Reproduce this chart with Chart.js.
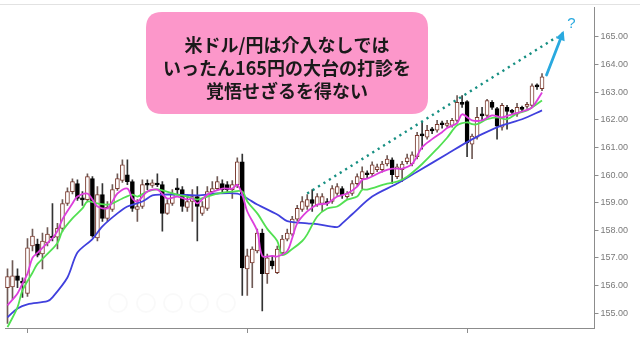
<!DOCTYPE html>
<html><head><meta charset="utf-8">
<script src="https://cdn.jsdelivr.net/npm/chart.js@4/dist/chart.umd.min.js"></script>
<style>html,body{margin:0;padding:0;background:#fff;}#wrap{width:640px;height:340px;position:relative;}</style>
</head><body><div id="wrap"><canvas id="c" width="640" height="340"></canvas></div>
<script>
const opens = [155.92,155.95,156.35,156.12,155.71,157.43,157.5,157.14,157.54,157.79,
157.75,158.07,158.97,159.4,159.69,159.13,159.11,159.87,157.72,159.29,
158.43,158.75,159.51,159.8,160.01,159.76,158.75,158.86,159.66,159.62,
159.67,159.65,158.61,158.97,159.49,159.47,158.83,159.04,159.22,158.61,
158.79,159.4,159.51,159.69,159.65,159.47,159.65,160.48,156.6,156.82,
157.25,157.9,156.43,156.89,156.46,157.18,157.68,157.86,158.4,158.75,
158.86,159.11,158.93,158.97,159.04,159.04,159.33,159.51,159.22,159.33,
159.69,159.87,160.05,160.05,160.19,160.19,160.4,160.55,159.94,160.19,
160.48,160.4,160.66,161.46,161.37,161.64,161.62,161.85,161.8,161.8,
161.98,162.6,162.66,161.12,161.37,162.18,162.16,162.63,162.41,161.73,
162.45,162.3,162.2,162.41,162.48,162.52,163.21,163.13];
const closes = [156.32,156.35,156.18,156.08,157.36,157.79,157.1,157.61,157.86,157.72,
158.07,158.97,159.4,159.76,159.15,159.1,159.94,157.79,159.29,158.43,
158.83,159.47,159.87,160.37,159.76,158.79,158.86,159.65,159.63,159.72,
159.64,158.61,158.97,159.33,159.46,158.86,159.04,159.22,158.86,158.86,
159.4,159.51,159.76,159.47,159.47,159.65,160.48,156.64,157.07,157.32,
157.9,156.43,157.0,156.71,157.32,157.68,157.9,158.4,158.79,159.04,
159.11,158.97,159.22,159.22,158.97,159.51,159.58,159.29,159.33,159.69,
159.94,160.12,160.01,160.37,160.3,160.4,160.58,160.01,160.3,160.4,
160.62,160.73,161.44,161.42,161.62,161.6,161.84,161.82,161.88,161.98,
162.63,162.56,161.16,161.41,162.09,162.14,162.7,162.45,161.77,162.52,
162.3,162.27,162.45,162.38,162.56,163.23,163.19,163.56];
const highs = [156.6,156.9,156.6,156.28,157.7,158.04,157.68,157.9,158.1,158.97,
158.25,159.11,159.54,159.86,159.83,159.4,160.04,159.94,159.58,159.69,
159.04,159.65,160.04,160.55,160.55,159.83,159.11,159.83,159.83,159.83,
160.04,159.76,159.11,159.47,159.87,159.58,159.29,159.47,159.58,159.04,
159.58,159.76,159.94,159.83,159.76,159.8,160.62,160.76,157.32,157.4,
158.04,158.04,157.14,157.07,157.43,157.82,158.04,158.5,158.9,159.22,
159.29,159.47,159.33,159.33,159.15,159.62,159.69,159.58,159.4,159.8,
160.04,160.3,160.15,160.48,160.4,160.5,160.7,160.62,160.4,160.5,
160.76,160.84,161.55,161.91,161.8,161.73,161.98,161.95,161.98,162.05,
162.88,162.88,162.7,161.48,162.45,162.45,162.74,162.7,162.45,162.6,
162.52,162.38,162.6,162.5,162.63,163.3,163.3,163.67];
const lows = [154.63,155.5,155.92,155.57,155.6,157.25,157.03,156.6,157.43,157.61,
157.32,157.96,158.9,159.32,159.08,158.9,159.04,157.75,157.61,158.32,
158.32,158.68,159.44,159.73,159.65,158.68,158.32,158.79,159.47,159.55,
159.58,157.97,158.57,158.9,159.29,158.68,158.68,158.32,157.61,158.54,
158.72,159.33,159.44,159.4,159.4,159.15,159.54,155.64,155.64,155.92,
157.18,155.08,156.07,156.6,156.43,157.1,157.61,157.79,158.33,158.68,
158.75,158.68,158.86,158.68,158.9,158.97,159.26,159.15,159.15,159.26,
159.62,159.51,159.9,159.98,160.12,160.1,160.33,159.69,159.87,159.76,
160.4,160.33,160.58,160.94,161.3,161.5,161.55,161.7,161.73,161.73,
161.91,162.45,160.66,160.59,161.3,161.98,162.09,162.38,161.3,161.62,
161.66,162.2,162.12,162.3,162.41,162.45,163.1,163.05];

// moving averages: [candle index, value]
const maShortPts = [[0,155.28],[2,155.71],[3,156.07],[4,156.43],[5,157.0],[6,157.18],[8,157.54],[9,157.72],[10,157.97],[11,158.4],[13,158.97],[14,159.22],[16,159.33],[17,159.11],[18,158.86],[20,158.79],[21,159.04],[22,159.33],[24,159.51],[25,159.15],[26,159.04],[28,159.4],[30,159.47],[32,159.15],[34,159.22],[36,159.11],[37,159.15],[38,158.97],[40,159.29],[43,159.51],[45,159.51],[46,159.65],[47,159.29],[48,158.68],[50,157.97],[51,157.07],[53,157.07],[54,157.05],[56,157.25],[57,157.72],[58,158.25],[60,158.68],[62,158.93],[64,158.97],[66,159.22],[68,159.33],[70,159.58],[71,159.83],[72,159.87],[75,160.12],[77,160.23],[79,160.23],[81,160.4],[83,161.01],[85,161.3],[87,161.55],[88,161.7],[90,161.88],[91,162.2],[93,161.98],[95,161.98],[97,162.16],[99,162.09],[101,162.2],[103,162.3],[105,162.45],[107,162.99]];
const maMidPts = [[0,154.49],[2,155.21],[3,155.82],[5,156.46],[6,156.78],[8,157.14],[10,157.54],[11,157.97],[13,158.43],[15,158.79],[16,159.04],[18,158.97],[20,158.93],[21,158.97],[23,159.15],[25,159.29],[26,159.22],[28,159.4],[30,159.48],[34,159.29],[36,159.22],[38,159.11],[40,159.22],[42,159.33],[45,159.4],[47,159.4],[48,159.04],[50,158.61],[52,158.05],[54,157.61],[55,157.1],[57,157.32],[59,157.61],[60,157.85],[62,158.5],[64,158.79],[66,158.86],[68,159.11],[70,159.22],[71,159.47],[72,159.47],[76,159.69],[78,159.76],[80,159.94],[83,160.4],[86,160.95],[88,161.35],[90,161.8],[92,161.91],[93,161.84],[94,161.84],[96,162.02],[98,162.09],[100,162.02],[102,162.23],[104,162.34],[107,162.7]];
const maLongPts = [[0,154.85],[2,155.17],[4,155.32],[8,155.43],[9,155.57],[12,156.29],[14,157.19],[17,157.68],[19,158.14],[22,158.61],[24,158.86],[27,159.04],[29,159.26],[31,159.29],[34,159.29],[38,159.26],[42,159.33],[46,159.33],[48,159.15],[50,158.93],[54,158.57],[56,158.33],[60,158.25],[62,158.22],[66,158.11],[67,158.25],[69,158.58],[73,159.22],[78,159.69],[82,160.12],[88,160.76],[92,161.19],[95,161.48],[99,161.8],[103,162.02],[107,162.34]];

const yTicks = [155,156,157,158,159,160,161,162,163,164,165];
const xTickIdx = [4,48,92];
const slotCount = 118;
const trendIdx = [60,110];
const trendVal = [159.33,165.0];
const arrowIdx = [107.9,111.1];
const arrowVal = [163.62,165.12];
const noteLines = ['米ドル/円は介入なしでは','いったん165円の大台の打診を','覚悟せざるを得ない'];
const arrowLabel = '?';

const labels = Array.from({length: slotCount}, (_, i) => String(i));
function sparse(pts){ const a = new Array(slotCount).fill(null); pts.forEach(p => { a[p[0]] = p[1]; }); return a; }
const trendData = new Array(slotCount).fill(null);
trendIdx.forEach((ix, k) => { trendData[ix] = trendVal[k]; });
const up = opens.map((o, i) => closes[i] >= o);

const overlay = {
  id: 'overlay',
  afterDraw(chart) {
    const ctx = chart.ctx, xs = chart.scales.x, ys = chart.scales.y;
    ctx.save();
    ctx.strokeStyle = '#e2e2e2'; ctx.lineWidth = 1;
    ctx.beginPath(); ctx.moveTo(0, 4.5); ctx.lineTo(640, 4.5); ctx.stroke();
    ctx.strokeStyle = 'rgba(0,0,0,0.025)'; ctx.lineWidth = 2;
    [118,146,173,199,226].forEach(cx => { ctx.beginPath(); ctx.arc(cx, 303, 9, 0, Math.PI*2); ctx.stroke(); });
    const x0 = xs.getPixelForValue(arrowIdx[0]), y0 = ys.getPixelForValue(arrowVal[0]);
    const x1 = xs.getPixelForValue(arrowIdx[1]), y1 = ys.getPixelForValue(arrowVal[1]);
    ctx.strokeStyle = '#29a9df'; ctx.fillStyle = '#29a9df'; ctx.lineWidth = 2.8; ctx.lineCap = 'round';
    ctx.beginPath(); ctx.moveTo(x0, y0); ctx.lineTo(x1, y1); ctx.stroke();
    const ang = Math.atan2(y1 - y0, x1 - x0);
    ctx.beginPath();
    ctx.moveTo(x1 + Math.cos(ang)*3, y1 + Math.sin(ang)*3);
    ctx.lineTo(x1 + Math.cos(ang + 2.5)*8, y1 + Math.sin(ang + 2.5)*8);
    ctx.lineTo(x1 + Math.cos(ang - 2.5)*8, y1 + Math.sin(ang - 2.5)*8);
    ctx.closePath(); ctx.fill();
    ctx.font = '15px "Liberation Sans"'; ctx.textAlign = 'center'; ctx.textBaseline = 'middle';
    ctx.fillText(arrowLabel, x1 + 9, y1 - 10);
    const bx = 146, by = 12, bw = 282, bh = 102, r = 16;
    ctx.fillStyle = '#fc97ca';
    ctx.beginPath();
    ctx.moveTo(bx + r, by);
    ctx.lineTo(bx + bw - r, by);
    ctx.quadraticCurveTo(bx + bw, by, bx + bw, by + r);
    ctx.lineTo(bx + bw, by + bh - r);
    ctx.quadraticCurveTo(bx + bw, by + bh, bx + bw - r, by + bh);
    ctx.lineTo(bx + r, by + bh);
    ctx.quadraticCurveTo(bx, by + bh, bx, by + bh - r);
    ctx.lineTo(bx, by + r);
    ctx.quadraticCurveTo(bx, by, bx + r, by);
    ctx.closePath(); ctx.fill();
    ctx.fillStyle = '#1a1a1a';
    ctx.font = 'bold 18px "Noto Sans CJK JP"';
    ctx.textAlign = 'center'; ctx.textBaseline = 'middle';
    noteLines.forEach((t, k) => ctx.fillText(t, bx + bw/2, 45 + k*23));
    ctx.restore();
  }
};

new Chart(document.getElementById('c'), {
  data: {
    labels: labels,
    datasets: [
      { type: 'line', label: 'short', data: sparse(maShortPts), borderColor: '#dc3edc', borderWidth: 1.8, pointRadius: 0, spanGaps: true, tension: 0.3, order: 0 },
      { type: 'line', label: 'mid', data: sparse(maMidPts), borderColor: '#52e052', borderWidth: 1.8, pointRadius: 0, spanGaps: true, tension: 0.3, order: 0 },
      { type: 'line', label: 'long', data: sparse(maLongPts), borderColor: '#4040dd', borderWidth: 1.8, pointRadius: 0, spanGaps: true, tension: 0.3, order: 0 },
      { type: 'line', label: 'trend', data: trendData, borderColor: '#168f82', borderWidth: 2.4, borderDash: [2.2, 4.2], pointRadius: 0, spanGaps: true, tension: 0, order: 0 },
      { type: 'bar', label: 'body', data: opens.map((o, i) => [o, closes[i]]), grouped: false, barThickness: 4, minBarLength: 2,
        backgroundColor: up.map(u => u ? '#ffffff' : '#000000'), borderColor: up.map(u => u ? '#7a3a2e' : '#000000'), borderWidth: 1, borderSkipped: false, order: 1 },
      { type: 'bar', label: 'wick', data: lows.map((l, i) => [l, highs[i]]), grouped: false, barThickness: 1,
        backgroundColor: up.map(u => u ? '#6f5a55' : '#333333'), borderWidth: 0, order: 2 }
    ]
  },
  options: {
    responsive: false, animation: false,
    layout: { padding: { left: 5, right: 10, top: 4, bottom: 7 } },
    plugins: { legend: { display: false }, tooltip: { enabled: false } },
    scales: {
      x: { type: 'category', offset: true,
        grid: { display: true, drawOnChartArea: false, offset: false, tickLength: 5, color: '#8c8c8c' },
        border: { color: '#8c8c8c' }, ticks: { display: false },
        afterBuildTicks: s => { s.ticks = xTickIdx.map(v => ({ value: v })); } },
      y: { position: 'right', min: 154.46, max: 166.07,
        afterBuildTicks: s => { s.ticks = yTicks.map(v => ({ value: v })); },
        grid: { drawOnChartArea: false, tickLength: 4, color: '#8c8c8c' },
        border: { color: '#8c8c8c' },
        ticks: { color: '#7a7a7a', padding: 2, font: { family: '"Liberation Sans", Arial', size: 9 }, callback: v => Number(v).toFixed(2) } }
    }
  },
  plugins: [overlay]
});
</script></body></html>
